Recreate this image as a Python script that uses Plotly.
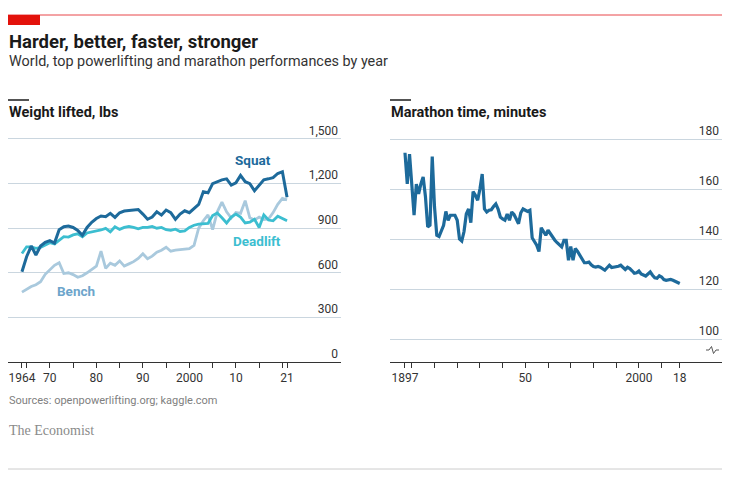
import plotly.graph_objects as go

W, H = 743, 480

# ---------------- data ----------------
lift_years = list(range(1964, 2022))
squat = [607, 708, 780, 720, 780, 805, 816, 800, 890, 910, 914, 905, 885, 852, 905, 940,
         965, 982, 977, 1000, 973, 1004, 1015, 1020, 1022, 1026, 995, 960, 975, 1011,
         988, 1022, 1005, 960, 995, 1017, 1004, 1030, 1060, 1145, 1138, 1200, 1215, 1225,
         1232, 1190, 1205, 1255, 1213, 1200, 1152, 1185, 1225, 1232, 1240, 1268, 1280, 1108]
deadlift = [730, 775, 775, 765, 770, 787, 802, 794, 820, 843, 840, 855, 862, 843, 868, 874,
            882, 888, 899, 876, 910, 892, 905, 912, 905, 896, 905, 905, 912, 900,
            905, 890, 885, 893, 878, 882, 905, 920, 928, 928, 932, 985, 1002, 970,
            935, 975, 995, 975, 935, 940, 960, 905, 990, 955, 950, 980, 965, 950]
bench = [470, 490, 508, 520, 540, 590, 620, 650, 668, 595, 600, 588, 570, 580, 600, 623,
         645, 745, 630, 665, 650, 680, 645, 660, 675, 697, 728, 695, 712, 738,
         752, 772, 745, 752, 755, 758, 762, 785, 900, 950, 990, 890, 1010, 1075,
         1010, 968, 1005, 1000, 1085, 970, 955, 975, 958, 962, 1005, 1060, 1100, 1090]

marathon_years = list(range(1897, 2019))
marathon = [174.5, 162, 174, 161, 149.5, 162, 158, 162, 164.8, 157, 144.8, 145.5, 173, 152.8,
            141.5, 141, 143, 145.5, 151, 147.5, 149.5, 149.5, 149.5, 147.5, 140, 139.2,
            143, 150, 152, 146.5, 159, 157.5, 155.5, 160, 166, 152, 150.8, 151.5, 151.7,
            153, 154, 152, 148.8, 148, 147.5, 150, 147.5, 150.8, 149.8, 148, 146.1, 150.5,
            152, 151.5, 151, 151.5, 140.5, 139, 137.5, 135, 144.5, 143, 141.5, 143.5, 142,
            140.8, 139.5, 138.5, 137.5, 136.8, 139.5, 139.5, 131.5, 137, 131.5, 136.2, 135,
            133.5, 131.5, 130.5, 130.5, 130.8, 129.7, 129, 128.8, 129, 128.7, 128, 127.5,
            128.5, 129.5, 128.6, 128.7, 128.8, 129.1, 129.5, 128.5, 127.8, 128.7, 128.2,
            127.3, 126.3, 126.5, 127.2, 126, 125.5, 125.2, 126, 126.8, 125.5, 124.5, 124.3,
            125.3, 124.8, 123.8, 123.5, 123.6, 123.8, 123.5, 123, 122.6, 122.2]

lift_tickvals = [1964, 1965, 1970, 1975, 1980, 1985, 1990, 1995, 2000, 2005, 2010, 2015, 2020, 2021]
lift_ticktext = ["1964", "", "70", "", "80", "", "90", "", "2000", "", "10", "", "", "21"]
lift_yvals = [0, 300, 600, 900, 1200, 1500]
lift_ytext = ["0", "300", "600", "900", "1,200", "1,500"]

mar_tickvals = [1897, 1900, 1910, 1920, 1930, 1940, 1950, 1960, 1970, 1980, 1990, 2000, 2010, 2018]
mar_ticktext = ["1897", "", "", "", "", "", "50", "", "", "", "", "2000", "", "18"]
mar_yvals = [100, 120, 140, 160, 180]
mar_ytext = ["100", "120", "140", "160", "180"]

# ---------------- style ----------------
FONT = "Roboto"
C_SQUAT = "#1D6A9B"
C_DEAD = "#3CBED0"
C_BENCH = "#A9C9DD"
C_BENCH_LBL = "#6DA5CB"
C_MAR = "#1D6A9B"
GRID = "#CAD6DF"
AX = "#333333"


def px(x):
    return x / W


def py(y):
    return 1 - y / H


fig = go.Figure()
fig.add_trace(go.Scatter(x=lift_years, y=bench, mode="lines", line=dict(color=C_BENCH, width=2.8),
                         xaxis="x", yaxis="y", hoverinfo="skip"))
fig.add_trace(go.Scatter(x=lift_years, y=deadlift, mode="lines", line=dict(color=C_DEAD, width=2.8),
                         xaxis="x", yaxis="y", hoverinfo="skip"))
fig.add_trace(go.Scatter(x=lift_years, y=squat, mode="lines", line=dict(color=C_SQUAT, width=3),
                         xaxis="x", yaxis="y", hoverinfo="skip"))
fig.add_trace(go.Scatter(x=marathon_years, y=marathon, mode="lines", line=dict(color=C_MAR, width=3.2),
                         xaxis="x2", yaxis="y2", hoverinfo="skip"))

# plot area: bottom at 362px, top at 137.5px (just above the top gridline)
ydom = [py(362), py(137.5)]
common_x = dict(showgrid=False, zeroline=False, showline=True, linecolor=AX, linewidth=1,
                ticks="outside", ticklen=5, tickwidth=1, tickcolor=AX, automargin=False,
                tickfont=dict(family=FONT, size=12, color="#333333"), fixedrange=True)
common_y = dict(showgrid=True, gridcolor=GRID, gridwidth=1, zeroline=False, showline=False,
                ticks="", side="right", ticklabelposition="inside top", ticklabeloverflow="allow",
                automargin=False,
                tickfont=dict(family=FONT, size=12, color="#333333"), fixedrange=True)

fig.update_layout(
    width=W, height=H, margin=dict(l=0, r=0, t=0, b=0, autoexpand=False),
    paper_bgcolor="white", plot_bgcolor="white", showlegend=False,
    xaxis=dict(domain=[px(8), px(341)], range=[1961.0, 2032.6], anchor="y",
               tickvals=lift_tickvals, ticktext=lift_ticktext, **common_x),
    yaxis=dict(domain=ydom, range=[0, 1510], anchor="x",
               tickvals=lift_yvals, ticktext=lift_ytext, **common_y),
    xaxis2=dict(domain=[px(390), px(722)], range=[1890.4, 2036.6], anchor="y2",
                tickvals=mar_tickvals, ticktext=mar_ticktext, **common_x),
    yaxis2=dict(domain=ydom, range=[90.8, 180.6], anchor="x2",
                tickvals=mar_yvals, ticktext=mar_ytext, **common_y),
)

shapes = [
    dict(type="line", xref="paper", yref="paper", x0=px(8), x1=px(722), y0=py(15), y1=py(15),
         line=dict(color="#E8464A", width=1)),
    dict(type="rect", xref="paper", yref="paper", x0=px(8), x1=px(40), y0=py(15), y1=py(25),
         fillcolor="#E3120B", line=dict(width=0)),
    dict(type="line", xref="paper", yref="paper", x0=px(8), x1=px(29), y0=py(100), y1=py(100),
         line=dict(color="#1a1a1a", width=1.5)),
    dict(type="line", xref="paper", yref="paper", x0=px(390), x1=px(411), y0=py(100), y1=py(100),
         line=dict(color="#1a1a1a", width=1.5)),
    dict(type="line", xref="paper", yref="paper", x0=px(8), x1=px(722), y0=py(469), y1=py(469),
         line=dict(color="#cccccc", width=1)),
    dict(type="path", xref="paper", yref="paper",
         path=f"M {px(706)},{py(350)} L {px(709)},{py(350)} L {px(711.5)},{py(346.5)} "
              f"L {px(713.5)},{py(353.5)} L {px(716)},{py(350)} L {px(719)},{py(350)}",
         line=dict(color="#555555", width=1)),
]
fig.update_layout(shapes=shapes)

ann = [
    dict(text="<b>Harder, better, faster, stronger</b>", x=px(7), y=py(42), xanchor="left", yanchor="middle",
         font=dict(family=FONT, size=18.5, color="#1a1a1a")),
    dict(text="World, top powerlifting and marathon performances by year", x=px(7), y=py(62),
         xanchor="left", yanchor="middle", font=dict(family=FONT, size=14.4, color="#333333")),
    dict(text="<b>Weight lifted, lbs</b>", x=px(7), y=py(112), xanchor="left", yanchor="middle",
         font=dict(family=FONT, size=14.5, color="#1a1a1a")),
    dict(text="<b>Marathon time, minutes</b>", x=px(389), y=py(112), xanchor="left", yanchor="middle",
         font=dict(family=FONT, size=14.5, color="#1a1a1a")),
    dict(text="Sources: openpowerlifting.org; kaggle.com", x=px(7), y=py(400), xanchor="left",
         yanchor="middle", font=dict(family=FONT, size=11, color="#808080")),
    dict(text="The Economist", x=px(7), y=py(430), xanchor="left", yanchor="middle",
         font=dict(family="Liberation Serif", size=14, color="#8a8a8a")),
]
for a in ann:
    a.update(xref="paper", yref="paper", showarrow=False)

series_labels = [
    dict(text="<b>Squat</b>", x=2013.7, y=1358, color=C_SQUAT),
    dict(text="<b>Deadlift</b>", x=2014.5, y=814, color=C_DEAD),
    dict(text="<b>Bench</b>", x=1975.6, y=477, color=C_BENCH_LBL),
]
for s in series_labels:
    ann.append(dict(text=s["text"], x=s["x"], y=s["y"], xref="x", yref="y", showarrow=False,
                    xanchor="center", yanchor="middle",
                    font=dict(family=FONT, size=13.5, color=s["color"])))
fig.update_layout(annotations=ann)

fig.write_html("out.html")
